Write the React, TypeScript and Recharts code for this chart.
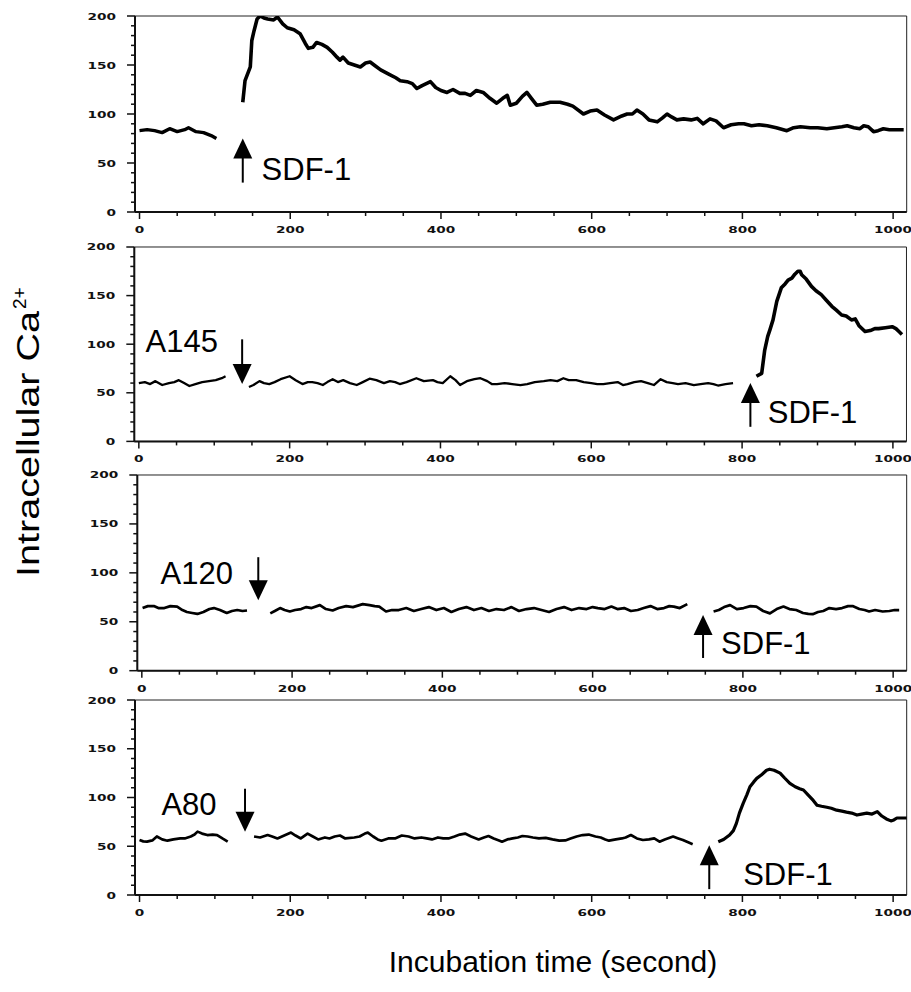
import { LineChart, Line, XAxis, YAxis, ReferenceArea, ReferenceLine, ReferenceDot } from "recharts";

// time (s) vs intracellular Ca2+
const p1Base = [
  { t: 0, v: 83 }, { t: 10, v: 84 }, { t: 20, v: 83 }, { t: 30, v: 81 }, { t: 40, v: 85 }, { t: 50, v: 82 },
  { t: 60, v: 84 }, { t: 65, v: 86 }, { t: 75, v: 82 }, { t: 85, v: 81 }, { t: 95, v: 78 }, { t: 102, v: 75 },
];
const p1Resp = [
  { t: 137, v: 112 }, { t: 140, v: 134 }, { t: 147, v: 148 }, { t: 149, v: 175 }, { t: 152, v: 185 }, { t: 156, v: 197 },
  { t: 160, v: 200 }, { t: 165, v: 198 }, { t: 170, v: 197 }, { t: 178, v: 196 }, { t: 183, v: 199 }, { t: 190, v: 192 },
  { t: 196, v: 188 }, { t: 205, v: 186 }, { t: 213, v: 182 }, { t: 220, v: 172 }, { t: 224, v: 167 }, { t: 230, v: 168 },
  { t: 235, v: 173 }, { t: 242, v: 171 }, { t: 249, v: 168 }, { t: 256, v: 163 }, { t: 262, v: 158 }, { t: 266, v: 155 },
  { t: 270, v: 158 }, { t: 277, v: 152 }, { t: 285, v: 150 }, { t: 293, v: 148 }, { t: 300, v: 152 }, { t: 306, v: 153 },
  { t: 313, v: 149 }, { t: 320, v: 145 }, { t: 330, v: 141 }, { t: 340, v: 137 }, { t: 346, v: 134 }, { t: 355, v: 133 },
  { t: 362, v: 131 }, { t: 368, v: 126 }, { t: 375, v: 129 }, { t: 386, v: 133 }, { t: 393, v: 127 }, { t: 400, v: 124 },
  { t: 408, v: 122 }, { t: 416, v: 125 }, { t: 425, v: 121 }, { t: 432, v: 121 }, { t: 439, v: 119 }, { t: 447, v: 124 },
  { t: 456, v: 122 }, { t: 465, v: 116 }, { t: 474, v: 111 }, { t: 482, v: 116 }, { t: 488, v: 119 }, { t: 492, v: 109 },
  { t: 500, v: 111 }, { t: 508, v: 118 }, { t: 514, v: 122 }, { t: 520, v: 116 }, { t: 527, v: 109 }, { t: 535, v: 110 },
  { t: 545, v: 112 }, { t: 558, v: 112 }, { t: 568, v: 110 }, { t: 575, v: 108 }, { t: 589, v: 100 }, { t: 598, v: 103 },
  { t: 607, v: 104 }, { t: 617, v: 99 }, { t: 629, v: 94 }, { t: 640, v: 98 }, { t: 647, v: 100 }, { t: 654, v: 100 },
  { t: 660, v: 104 }, { t: 668, v: 100 }, { t: 676, v: 94 }, { t: 687, v: 92 }, { t: 694, v: 96 }, { t: 700, v: 100 },
  { t: 706, v: 97 }, { t: 713, v: 94 }, { t: 722, v: 95 }, { t: 732, v: 94 }, { t: 740, v: 95.5 }, { t: 748, v: 90 },
  { t: 757, v: 95 }, { t: 765, v: 93 }, { t: 775, v: 86 }, { t: 785, v: 89 }, { t: 795, v: 90 }, { t: 802, v: 90 },
  { t: 812, v: 88 }, { t: 822, v: 89 }, { t: 833, v: 88 }, { t: 845, v: 86 }, { t: 859, v: 83 }, { t: 868, v: 86 },
  { t: 877, v: 87 }, { t: 890, v: 86 }, { t: 900, v: 86 }, { t: 912, v: 85 }, { t: 922, v: 86 }, { t: 932, v: 87 },
  { t: 939, v: 88 }, { t: 948, v: 86 }, { t: 956, v: 85 }, { t: 961, v: 88 }, { t: 967, v: 87 }, { t: 974, v: 82 },
  { t: 980, v: 83 }, { t: 987, v: 85 }, { t: 995, v: 84 }, { t: 1005, v: 84 }, { t: 1014, v: 84 },
];

const p2Base1 = [
  { t: 0, v: 60 }, { t: 8, v: 61 }, { t: 15, v: 59 }, { t: 22, v: 62 }, { t: 31, v: 58 }, { t: 40, v: 60 },
  { t: 47, v: 61 }, { t: 53, v: 63 }, { t: 60, v: 60 }, { t: 67, v: 57 }, { t: 75, v: 59 }, { t: 84, v: 61 },
  { t: 93, v: 62 }, { t: 102, v: 63 }, { t: 110, v: 65 }, { t: 115, v: 67 },
];
const p2Base2 = [
  { t: 146, v: 56 }, { t: 152, v: 58 }, { t: 160, v: 62 }, { t: 166, v: 60 }, { t: 173, v: 59 }, { t: 180, v: 61 },
  { t: 188, v: 64 }, { t: 200, v: 67 }, { t: 208, v: 63 }, { t: 217, v: 59 }, { t: 224, v: 61 }, { t: 230, v: 61 },
  { t: 237, v: 60 }, { t: 244, v: 58 }, { t: 250, v: 61 }, { t: 257, v: 64 }, { t: 264, v: 61 }, { t: 271, v: 63 },
  { t: 280, v: 60 }, { t: 289, v: 58 }, { t: 297, v: 61 }, { t: 306, v: 64.5 }, { t: 315, v: 63 }, { t: 325, v: 60 },
  { t: 333, v: 62 }, { t: 340, v: 61 }, { t: 346, v: 59 }, { t: 355, v: 61 }, { t: 368, v: 65 }, { t: 378, v: 62 },
  { t: 390, v: 63 }, { t: 396, v: 61 }, { t: 403, v: 60 }, { t: 413, v: 67 }, { t: 420, v: 63 }, { t: 426, v: 58 },
  { t: 435, v: 62 }, { t: 445, v: 64 }, { t: 453, v: 65 }, { t: 462, v: 62 }, { t: 468, v: 59 }, { t: 475, v: 59 },
  { t: 485, v: 60 }, { t: 495, v: 59 }, { t: 506, v: 58 }, { t: 515, v: 59 }, { t: 525, v: 61 }, { t: 537, v: 62 },
  { t: 546, v: 63 }, { t: 555, v: 62 }, { t: 563, v: 65 }, { t: 570, v: 63 }, { t: 580, v: 63 }, { t: 590, v: 61 },
  { t: 600, v: 60 }, { t: 608, v: 59 }, { t: 616, v: 59 }, { t: 625, v: 60 }, { t: 635, v: 61 }, { t: 642, v: 58 },
  { t: 648, v: 59 }, { t: 657, v: 61 }, { t: 666, v: 62 }, { t: 675, v: 60 }, { t: 683, v: 58 }, { t: 692, v: 64 },
  { t: 700, v: 61 }, { t: 708, v: 60 }, { t: 715, v: 59 }, { t: 725, v: 60 }, { t: 736, v: 58 }, { t: 745, v: 59 },
  { t: 755, v: 60 }, { t: 762, v: 59 }, { t: 768, v: 57.5 }, { t: 778, v: 59 }, { t: 788, v: 60 },
];
const p2Resp = [
  { t: 819, v: 67 }, { t: 826, v: 70 }, { t: 830, v: 94 }, { t: 834, v: 108 }, { t: 837, v: 115 }, { t: 841, v: 125 },
  { t: 846, v: 144 }, { t: 852, v: 158 }, { t: 857, v: 162 }, { t: 861, v: 166 }, { t: 866, v: 168 }, { t: 870, v: 172 },
  { t: 874, v: 175 }, { t: 877, v: 175 }, { t: 879, v: 171.5 }, { t: 885, v: 167 }, { t: 892, v: 159.5 }, { t: 898, v: 155 },
  { t: 905, v: 151 }, { t: 912, v: 145 }, { t: 919, v: 139 }, { t: 925, v: 135 }, { t: 932, v: 130 }, { t: 938, v: 129 },
  { t: 945, v: 125 }, { t: 950, v: 126 }, { t: 955, v: 119 }, { t: 963, v: 113 }, { t: 970, v: 114 }, { t: 976, v: 116 },
  { t: 981, v: 116 }, { t: 990, v: 117 }, { t: 999, v: 118 }, { t: 1004, v: 116 }, { t: 1008, v: 113 }, { t: 1012, v: 110 },
];

const p3Base1 = [
  { t: 1, v: 64 }, { t: 8, v: 66 }, { t: 16, v: 66 }, { t: 22, v: 64 }, { t: 30, v: 64 }, { t: 38, v: 66 },
  { t: 47, v: 65.5 }, { t: 54, v: 62 }, { t: 60, v: 60 }, { t: 67, v: 59 }, { t: 74, v: 58 }, { t: 82, v: 60 },
  { t: 90, v: 63 }, { t: 96, v: 64 }, { t: 104, v: 62 }, { t: 113, v: 59 }, { t: 120, v: 61 }, { t: 127, v: 62 },
  { t: 134, v: 61 }, { t: 140, v: 61.5 },
];
const p3Base2 = [
  { t: 171, v: 58.6 }, { t: 177, v: 61 }, { t: 184, v: 64 }, { t: 190, v: 62 }, { t: 197, v: 60.5 }, { t: 204, v: 62 },
  { t: 212, v: 63 }, { t: 219, v: 65 }, { t: 226, v: 64 }, { t: 237, v: 67 }, { t: 245, v: 63 }, { t: 254, v: 61.5 },
  { t: 262, v: 64 }, { t: 272, v: 66 }, { t: 281, v: 65 }, { t: 294, v: 68 }, { t: 303, v: 67 }, { t: 310, v: 66 },
  { t: 316, v: 65.5 }, { t: 325, v: 60.5 }, { t: 333, v: 62 }, { t: 342, v: 62 }, { t: 352, v: 64 }, { t: 362, v: 61 },
  { t: 372, v: 63 }, { t: 382, v: 65 }, { t: 392, v: 62 }, { t: 402, v: 64 }, { t: 412, v: 60 }, { t: 422, v: 63 },
  { t: 432, v: 65 }, { t: 442, v: 62 }, { t: 452, v: 64 }, { t: 462, v: 61 }, { t: 472, v: 63 }, { t: 482, v: 62 },
  { t: 492, v: 65 }, { t: 502, v: 61 }, { t: 512, v: 63 }, { t: 522, v: 64 }, { t: 532, v: 62 }, { t: 542, v: 60 },
  { t: 552, v: 63 }, { t: 562, v: 65 }, { t: 572, v: 62 }, { t: 582, v: 64 }, { t: 592, v: 63 }, { t: 600, v: 65 },
  { t: 607, v: 64 }, { t: 616, v: 63 }, { t: 625, v: 65.5 }, { t: 633, v: 63 }, { t: 642, v: 64 }, { t: 651, v: 61 },
  { t: 660, v: 62 }, { t: 668, v: 64 }, { t: 677, v: 66 }, { t: 686, v: 63 }, { t: 695, v: 64 }, { t: 702, v: 66 },
  { t: 708, v: 65.5 }, { t: 716, v: 64 }, { t: 726, v: 68 },
];
const p3Base3 = [
  { t: 761, v: 60.5 }, { t: 768, v: 62 }, { t: 775, v: 65 }, { t: 783, v: 67 }, { t: 792, v: 63 }, { t: 801, v: 64 },
  { t: 810, v: 66 }, { t: 818, v: 65.5 }, { t: 827, v: 61 }, { t: 836, v: 58.6 }, { t: 845, v: 63 }, { t: 854, v: 65.5 },
  { t: 862, v: 63 }, { t: 871, v: 62 }, { t: 880, v: 59 }, { t: 887, v: 58 }, { t: 893, v: 57.8 }, { t: 900, v: 60 },
  { t: 907, v: 61 }, { t: 915, v: 64 }, { t: 924, v: 63 }, { t: 932, v: 64 }, { t: 940, v: 66 }, { t: 946, v: 66 },
  { t: 955, v: 63 }, { t: 962, v: 62 }, { t: 968, v: 60.5 }, { t: 976, v: 62 }, { t: 986, v: 60.5 }, { t: 995, v: 61 },
  { t: 1002, v: 62 }, { t: 1008, v: 62 },
];

const p4Base1 = [
  { t: 0, v: 56.4 }, { t: 5, v: 55 }, { t: 10, v: 54.7 }, { t: 17, v: 56 }, { t: 23, v: 60 }, { t: 30, v: 57 },
  { t: 37, v: 55.7 }, { t: 45, v: 57 }, { t: 54, v: 58 }, { t: 60, v: 58 }, { t: 68, v: 60 }, { t: 73, v: 62 },
  { t: 77, v: 65 }, { t: 83, v: 63 }, { t: 90, v: 61.5 }, { t: 97, v: 62 }, { t: 103, v: 61.5 }, { t: 110, v: 58 },
  { t: 117, v: 54.7 },
];
const p4Base2 = [
  { t: 152, v: 60 }, { t: 160, v: 59 }, { t: 170, v: 61.5 }, { t: 176, v: 60 }, { t: 183, v: 58 }, { t: 192, v: 61 },
  { t: 201, v: 64 }, { t: 207, v: 61 }, { t: 214, v: 58 }, { t: 223, v: 63 }, { t: 230, v: 60 }, { t: 237, v: 57 },
  { t: 246, v: 59 }, { t: 252, v: 58 }, { t: 259, v: 60 }, { t: 266, v: 61 }, { t: 273, v: 58 }, { t: 285, v: 59 },
  { t: 292, v: 60 }, { t: 299, v: 63 }, { t: 303, v: 64 }, { t: 310, v: 60 }, { t: 316, v: 57 }, { t: 321, v: 55.7 },
  { t: 330, v: 58 }, { t: 339, v: 58 }, { t: 348, v: 61 }, { t: 357, v: 60 }, { t: 365, v: 58 }, { t: 374, v: 59 },
  { t: 381, v: 58 }, { t: 388, v: 57 }, { t: 396, v: 59 }, { t: 403, v: 58 }, { t: 410, v: 58 }, { t: 418, v: 60 },
  { t: 425, v: 62 }, { t: 432, v: 63 }, { t: 440, v: 60 }, { t: 450, v: 57 }, { t: 457, v: 59 }, { t: 463, v: 60.5 },
  { t: 470, v: 58 }, { t: 477, v: 56 }, { t: 481, v: 54.7 }, { t: 488, v: 57 }, { t: 495, v: 58 }, { t: 502, v: 59 },
  { t: 508, v: 60.5 }, { t: 515, v: 60 }, { t: 522, v: 59 }, { t: 530, v: 58 }, { t: 539, v: 58.6 }, { t: 548, v: 57 },
  { t: 557, v: 55.7 }, { t: 565, v: 56 }, { t: 572, v: 58 }, { t: 580, v: 60 }, { t: 588, v: 61.5 }, { t: 596, v: 62 },
  { t: 605, v: 60 }, { t: 612, v: 59 }, { t: 618, v: 57 }, { t: 623, v: 55.7 }, { t: 632, v: 57 }, { t: 640, v: 58 },
  { t: 645, v: 59 }, { t: 652, v: 61.5 }, { t: 660, v: 58 }, { t: 668, v: 56.4 }, { t: 676, v: 57 }, { t: 683, v: 58 },
  { t: 690, v: 54.7 }, { t: 697, v: 57 }, { t: 708, v: 60 }, { t: 715, v: 58 }, { t: 721, v: 56.4 }, { t: 728, v: 54 },
  { t: 734, v: 52 },
];
const p4Resp = [
  { t: 768, v: 54.7 }, { t: 775, v: 57 }, { t: 783, v: 61.5 }, { t: 788, v: 66 }, { t: 792, v: 73.5 }, { t: 796, v: 84 },
  { t: 801, v: 94 }, { t: 806, v: 103 }, { t: 810, v: 111 }, { t: 815, v: 116 }, { t: 819, v: 119.6 }, { t: 825, v: 123 },
  { t: 832, v: 128 }, { t: 836, v: 129 }, { t: 842, v: 128 }, { t: 850, v: 125 }, { t: 856, v: 120 }, { t: 863, v: 114.5 },
  { t: 870, v: 111 }, { t: 876, v: 109 }, { t: 881, v: 107.7 }, { t: 888, v: 102 }, { t: 894, v: 97 }, { t: 899, v: 92 },
  { t: 905, v: 91 }, { t: 912, v: 90 }, { t: 918, v: 89 }, { t: 925, v: 87 }, { t: 932, v: 86 }, { t: 938, v: 85 },
  { t: 945, v: 84 }, { t: 952, v: 82 }, { t: 958, v: 83 }, { t: 965, v: 84 }, { t: 972, v: 83 }, { t: 979, v: 85.5 },
  { t: 985, v: 81 }, { t: 991, v: 78 }, { t: 997, v: 76 }, { t: 1001, v: 77 }, { t: 1005, v: 79 }, { t: 1012, v: 79 },
  { t: 1019, v: 79 },
];

const yTicks = [0, 10, 20, 30, 40, 50, 60, 70, 80, 90, 100, 110, 120, 130, 140, 150, 160, 170, 180, 190, 200];
const xTicks = [0, 50, 100, 150, 200, 250, 300, 350, 400, 450, 500, 550, 600, 650, 700, 750, 800, 850, 900, 950, 1000];

// arrows: t, tail, tip (in data units), dir
const panels = [
  {
    box: { top: 15.7, left: 135, bottom: 211.7, right: 906.7 },
    segs: [{ d: p1Base, w: 3.4 }, { d: p1Resp, w: 3.6 }],
    arrows: [{ t: 137, tail: 30, tip: 75, up: true }],
    labels: [{ t: 162, v: 33, text: "SDF-1" }],
  },
  {
    box: { top: 247.3, left: 134.3, bottom: 441.7, right: 906.5 },
    segs: [{ d: p2Base1, w: 2.3 }, { d: p2Base2, w: 2.3 }, { d: p2Resp, w: 3.6 }],
    arrows: [
      { t: 137, tail: 105, tip: 59, up: false },
      { t: 811, tail: 15, tip: 60, up: true },
    ],
    labels: [
      { t: 9, v: 91.5, text: "A145" },
      { t: 834, v: 19, text: "SDF-1" },
    ],
  },
  {
    box: { top: 475, left: 137.3, bottom: 670.7, right: 906.7 },
    segs: [{ d: p3Base1, w: 2.7 }, { d: p3Base2, w: 2.7 }, { d: p3Base3, w: 2.7 }],
    arrows: [
      { t: 155, tail: 116, tip: 72, up: false },
      { t: 747, tail: 13, tip: 57, up: true },
    ],
    labels: [
      { t: 25, v: 88.5, text: "A120" },
      { t: 771, v: 17, text: "SDF-1" },
    ],
  },
  {
    box: { top: 700, left: 135, bottom: 895, right: 906.7 },
    segs: [{ d: p4Base1, w: 2.7 }, { d: p4Base2, w: 2.7 }, { d: p4Resp, w: 3.2 }],
    arrows: [
      { t: 140, tail: 109, tip: 65, up: false },
      { t: 756, tail: 6, tip: 51, up: true },
    ],
    labels: [
      { t: 29, v: 82, text: "A80" },
      { t: 801, v: 10, text: "SDF-1" },
    ],
  },
];

const tickFont = "'DejaVu Sans', Verdana, sans-serif";
const labelFont = "'Liberation Sans', Arial, Helvetica, sans-serif";

const YTick = ({ x, y, payload }: any) => {
  const major = payload.value % 50 === 0;
  const s = String(payload.value);
  return (
    <g>
      <line x1={x} x2={x - (major ? 8 : 4)} y1={y} y2={y} stroke="#111" strokeWidth={1.5} />
      {major && (
        <text
          x={x - 19}
          y={y + 3.5}
          textAnchor="end"
          fontFamily={tickFont}
          fontWeight="bold"
          fontSize={9}
          fill="#111"
          textLength={s.length * 9.5}
          lengthAdjust="spacingAndGlyphs"
        >
          {s}
        </text>
      )}
    </g>
  );
};

const XTick = ({ x, y, payload }: any) => {
  const major = payload.value % 200 === 0;
  const s = String(payload.value);
  return (
    <g>
      <line x1={x} x2={x} y1={y} y2={y + (major ? 7 : 4)} stroke="#111" strokeWidth={1.5} />
      {major && (
        <text
          x={x}
          y={y + 21}
          textAnchor="middle"
          fontFamily={tickFont}
          fontWeight="bold"
          fontSize={9}
          fill="#111"
          textLength={s.length * 9.5}
          lengthAdjust="spacingAndGlyphs"
        >
          {s}
        </text>
      )}
    </g>
  );
};

const Head = ({ cx, cy, up }: any) => {
  const h = 20;
  const w = 9.5;
  const base = up ? cy + h : cy - h;
  return <polygon points={`${cx},${cy} ${cx - w},${base} ${cx + w},${base}`} fill="#000" />;
};

const Panel = ({ p }: any) => {
  const { box } = p;
  const h = box.bottom - box.top;
  const mt = 10;
  const xh = 35;
  return (
    <div style={{ position: "absolute", left: 0, top: box.top - mt }}>
      <LineChart
        width={911}
        height={h + mt + xh}
        margin={{ top: mt, right: 911 - box.right, bottom: 0, left: 0 }}
      >
        <XAxis
          type="number"
          dataKey="t"
          domain={[-6, 1018]}
          ticks={xTicks}
          interval={0}
          allowDataOverflow
          height={xh}
          tickSize={0}
          tickMargin={0}
          tickLine={false}
          axisLine={{ stroke: "#111", strokeWidth: 2 }}
          tick={XTick}
        />
        <YAxis
          type="number"
          domain={[0, 200]}
          ticks={yTicks}
          interval={0}
          allowDataOverflow
          width={box.left}
          tickSize={0}
          tickMargin={0}
          tickLine={false}
          axisLine={{ stroke: "#111", strokeWidth: 2 }}
          tick={YTick}
        />
        <ReferenceArea x1={-6} x2={1018} y1={0} y2={200} fill="none" stroke="#222" strokeWidth={1} />
        {p.segs.map((s: any, i: number) => (
          <Line
            key={i}
            data={s.d}
            dataKey="v"
            type="linear"
            stroke="#000"
            strokeWidth={s.w}
            strokeLinejoin="round"
            dot={false}
            activeDot={false}
            isAnimationActive={false}
          />
        ))}
        {p.arrows.map((a: any, i: number) => (
          <ReferenceLine
            key={"s" + i}
            segment={[{ x: a.t, y: a.tail }, { x: a.t, y: a.tip + (a.up ? -10 : 10) }]}
            stroke="#000"
            strokeWidth={2}
          />
        ))}
        {p.arrows.map((a: any, i: number) => (
          <ReferenceDot
            key={"h" + i}
            x={a.t}
            y={a.tip}
            r={1}
            shape={(props: any) => <Head cx={props.cx} cy={props.cy} up={a.up} />}
          />
        ))}
        {p.labels.map((l: any, i: number) => (
          <ReferenceDot
            key={"l" + i}
            x={l.t}
            y={l.v}
            r={1}
            shape={(props: any) => (
              <text x={props.cx} y={props.cy} fontFamily={labelFont} fontSize={31} fill="#000">
                {l.text}
              </text>
            )}
          />
        ))}
      </LineChart>
    </div>
  );
};

export default function App() {
  return (
    <div style={{ position: "absolute", left: 0, top: 0, width: 911, height: 992, background: "#fff" }}>
      {panels.map((p, i) => (
        <Panel key={i} p={p} />
      ))}
      <svg width={60} height={992} style={{ position: "absolute", left: 0, top: 0 }}>
        <g transform="translate(39,577) rotate(-90)">
          <text
            x={0}
            y={0}
            fontFamily={labelFont}
            fontSize={32}
            fill="#000"
            textLength={266}
            lengthAdjust="spacingAndGlyphs"
          >
            Intracellular Ca
          </text>
          <text x={268} y={-13} fontFamily={labelFont} fontSize={19} fill="#000">
            2+
          </text>
        </g>
      </svg>
      <div
        style={{
          position: "absolute",
          left: 553,
          top: 962,
          transform: "translate(-50%, -50%)",
          whiteSpace: "nowrap",
          fontFamily: labelFont,
          fontSize: 30,
          color: "#000",
        }}
      >
        Incubation time (second)
      </div>
    </div>
  );
}
